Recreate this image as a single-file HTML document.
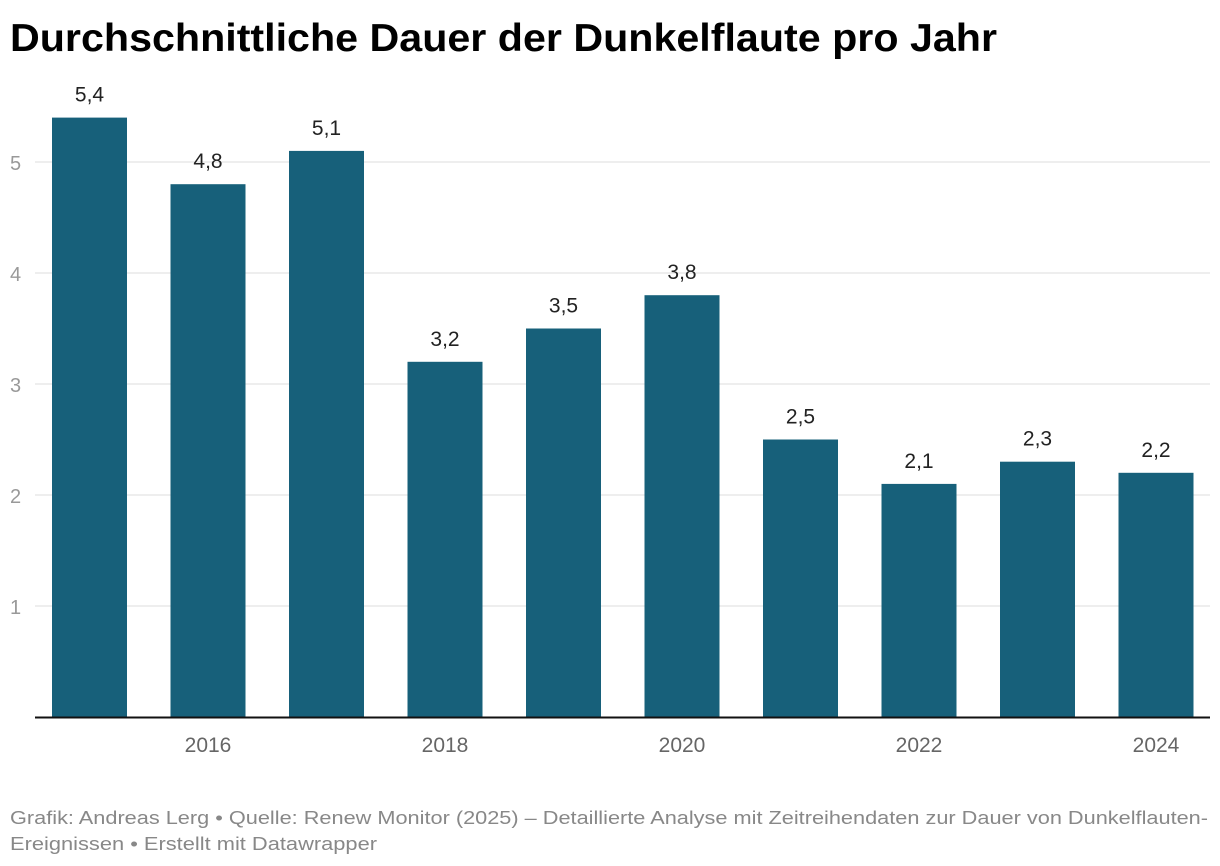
<!DOCTYPE html>
<html><head><meta charset="utf-8"><style>
html,body{margin:0;padding:0;background:#fff;width:1220px;height:866px;overflow:hidden}
svg{display:block;font-family:"Liberation Sans",sans-serif}
</style></head><body>
<svg id="chart" width="1220" height="866" viewBox="0 0 1220 866">
<text x="10" y="51" font-size="39" font-weight="bold" fill="#000" textLength="987" lengthAdjust="spacingAndGlyphs">Durchschnittliche Dauer der Dunkelflaute pro Jahr</text>
<g id="grid"></g><g id="bars"></g><g id="labels"></g><g id="xticks"></g>
<line x1="35" y1="717.5" x2="1210" y2="717.5" stroke="#111" stroke-width="2"/>
<text x="10" y="824" font-size="18" fill="#888" textLength="1198" lengthAdjust="spacingAndGlyphs">Grafik: Andreas Lerg • Quelle: Renew Monitor (2025) – Detaillierte Analyse mit Zeitreihendaten zur Dauer von Dunkelflauten-</text>
<text x="10" y="850" font-size="18" fill="#888" textLength="367" lengthAdjust="spacingAndGlyphs">Ereignissen • Erstellt mit Datawrapper</text>
</svg>
<script>
const years = [2015,2016,2017,2018,2019,2020,2021,2022,2023,2024];
const values = [5.4,4.8,5.1,3.2,3.5,3.8,2.5,2.1,2.3,2.2];
const valueLabels = ["5,4","4,8","5,1","3,2","3,5","3,8","2,5","2,1","2,3","2,2"];
const yTicks = [1,2,3,4,5];
const xTickLabels = [2016,2018,2020,2022,2024];
const NS="http://www.w3.org/2000/svg";
const y = v => 717 - v*111;
const step = 118.5, x0 = 89.5, bw = 75;
const x = i => x0 + i*step;
function mk(tag, attrs, parent){const e=document.createElementNS(NS,tag);for(const k in attrs)e.setAttribute(k,attrs[k]);document.getElementById(parent).appendChild(e);return e;}
yTicks.forEach(t=>{
  const l=mk('line',{x1:35,x2:1210,y1:y(t),y2:y(t),stroke:'#dedede','stroke-width':1},'grid');
  
  
  const tx=mk('text',{x:10,y:y(t)+8,'font-size':20,fill:'#999'},'grid');
  tx.textContent=t;
  
  
});
values.forEach((v,i)=>{
  const r=mk('rect',{x:x(i)-bw/2,y:y(v),width:bw,height:717-y(v),fill:'#17607a'},'bars');
  
  
  const t=mk('text',{x:x(i),y:y(v)-16,'font-size':21,fill:'#222','text-anchor':'middle'},'labels');
  t.textContent=valueLabels[i];
  
  
});
xTickLabels.forEach(yr=>{
  const i=years.indexOf(yr);
  const t=mk('text',{x:x(i),y:752,'font-size':21,fill:'#666','text-anchor':'middle'},'xticks');
  t.textContent=yr;
  
  
});
</script>
</body></html>
